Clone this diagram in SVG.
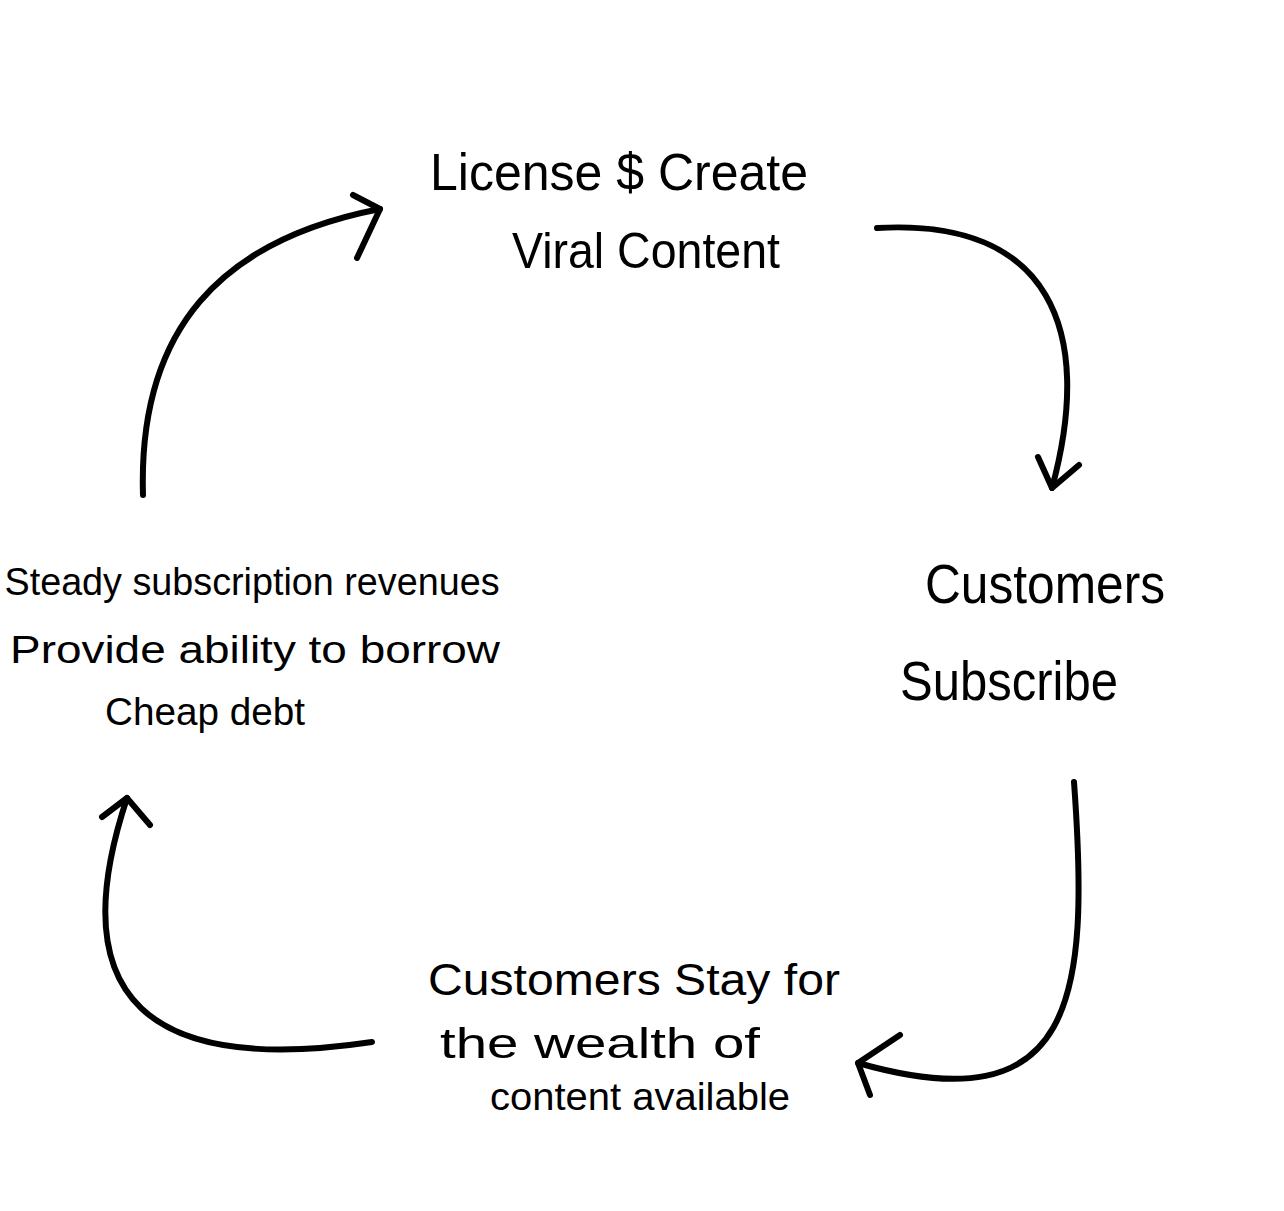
<svg xmlns="http://www.w3.org/2000/svg" width="1284" height="1211" viewBox="0 0 1284 1211">
<style>
.c{fill:none;stroke:#000;stroke-width:6;stroke-linecap:round;stroke-linejoin:round}
.t{font-family:"Liberation Sans",Arial,sans-serif;fill:#000;text-anchor:middle}
</style>
<rect width="1284" height="1211" fill="#fff"/>
<g id="connectors">
<path class="c" d="M143,495 C138,330 220,240 380,209"/>
<path class="c" d="M353,195 L380,209 L357,258"/>
<path class="c" d="M877,228 C1050,218 1095,330 1052,488"/>
<path class="c" d="M1038,457 L1052,488 L1079,465"/>
<path class="c" d="M1074,782 C1090,1000 1075,1125 858,1063"/>
<path class="c" d="M900,1035 L858,1063 L870,1095"/>
<path class="c" d="M372,1042 C150,1075 60,1000 127,798"/>
<path class="c" d="M102,817 L127,798 L150,825"/>
</g>
<g id="node-license">
<text class="t" x="619" y="190" font-size="52" textLength="378" lengthAdjust="spacingAndGlyphs">License $ Create</text>
<text class="t" x="646" y="268" font-size="50" textLength="268" lengthAdjust="spacingAndGlyphs">Viral Content</text>
</g>
<g id="node-subscribe">
<text class="t" x="1045" y="603" font-size="56" textLength="240" lengthAdjust="spacingAndGlyphs">Customers</text>
<text class="t" x="1009" y="700" font-size="56" textLength="218" lengthAdjust="spacingAndGlyphs">Subscribe</text>
</g>
<g id="node-stay">
<text class="t" x="634" y="995" font-size="44" textLength="412" lengthAdjust="spacingAndGlyphs">Customers Stay for</text>
<text class="t" x="600" y="1058" font-size="42" textLength="320" lengthAdjust="spacingAndGlyphs">the wealth of</text>
<text class="t" x="640" y="1110" font-size="38" textLength="300" lengthAdjust="spacingAndGlyphs">content available</text>
</g>
<g id="node-debt">
<text class="t" x="252" y="595" font-size="38" textLength="495" lengthAdjust="spacingAndGlyphs">Steady subscription revenues</text>
<text class="t" x="255" y="663" font-size="38" textLength="490" lengthAdjust="spacingAndGlyphs">Provide ability to borrow</text>
<text class="t" x="205" y="725" font-size="38" textLength="200" lengthAdjust="spacingAndGlyphs">Cheap debt</text>
</g>
</svg>
